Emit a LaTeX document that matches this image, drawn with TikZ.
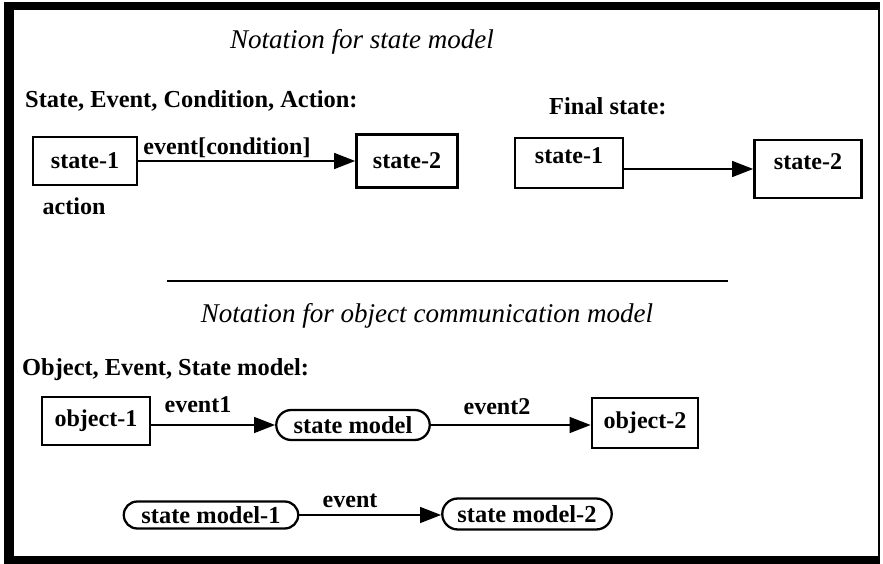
\documentclass[tikz,border=0pt]{standalone}
\usepackage{fontspec}
\setmainfont{Liberation Serif}
\usepackage{tikz}
\usetikzlibrary{arrows.meta,shapes.misc}
\tikzset{
    every picture/.style={
        x=0.02cm, y=-0.02cm,
        >={Triangle[length=12pt,width=9pt]}
    },
    % boxes and ovals
    statebox/.style={rectangle,draw,line width=1.5pt,inner sep=1pt,font=\fontsize{13.7}{16}\bfseries},
    modeloval/.style={rounded rectangle,draw,line width=1.3pt,inner sep=1pt,font=\fontsize{13.9}{16}\bfseries},
    % texts
    heading/.style={font=\fontsize{15.4}{18}\itshape},
    subhead/.style={anchor=west,font=\fontsize{13.9}{16}\bfseries},
    evlabel/.style={font=\fontsize{13.7}{16}\bfseries},
    % flow
    evarrow/.style={->,line width=1.2pt}
}

\begin{document}
\begin{tikzpicture}
    \useasboundingbox (0,0) rectangle (883,564);
    % frame
    \fill (4,2) rectangle (14,562);
    \fill (4,2) rectangle (880,10);
    \fill (4,556) rectangle (880,564);
    \draw[line width=1.2pt] (879,2) -- (879,564);

    % Notation for state model
    \node[heading] at (362,42) (title1) {Notation for state model};
    \node[subhead] at (19,101) (head1) {State, Event, Condition, Action:};
    \node[subhead] at (543,106) (head2) {Final state:};

    \node[statebox, minimum width=2.08cm, minimum height=0.96cm] at (85,161) (s1) {state-1};
    \node[statebox, minimum width=2.02cm, minimum height=1.06cm] at (407,161) (s2) {state-2};
    \node[evlabel] at (227,148) (cond) {event[condition]};
    \node[evlabel] at (74,206) (act) {action};
    \draw[evarrow] (s1) -- (s2);

    \node[statebox, text depth=9pt, minimum width=2.16cm, minimum height=1.0cm] at (569,163) (fs1) {state-1};
    \node[statebox, text depth=9pt, minimum width=2.14cm, minimum height=1.16cm] at (808,169) (fs2) {state-2};
    \draw[evarrow] (fs1.east |- fs2.west) -- (fs2.west);

    % Notation for object communication model
    \draw[line width=1.6pt] (167,281) -- (728,281);
    \node[heading] at (427,316) (title2) {Notation for object communication model};
    \node[subhead] at (16,370) (head3) {Object, Event, State model:};

    \node[statebox, minimum width=2.16cm, minimum height=0.96cm] at (96,421) (o1) {object-1};
    \node[modeloval, minimum width=3.14cm, minimum height=0.6cm] at (353,425) (sm) {state model};
    \node[statebox, minimum width=2.12cm, minimum height=1.0cm] at (645,423) (o2) {object-2};
    \node[evlabel] at (198,405) (ev1) {event1};
    \node[evlabel] at (497,407) (ev2) {event2};
    \draw[evarrow] (o1.east |- sm.west) -- (sm.west);
    \draw[evarrow] (sm.east) -- (sm.east -| o2.west);

    \node[modeloval, minimum width=3.56cm, minimum height=0.54cm] at (211,515) (sm1) {state model-1};
    \node[modeloval, minimum width=3.46cm, minimum height=0.62cm] at (527,514) (sm2) {state model-2};
    \node[evlabel] at (350,501) (ev) {event};
    \draw[evarrow] (sm1.east) -- (sm1.east -| sm2.west);
\end{tikzpicture}
\end{document}
